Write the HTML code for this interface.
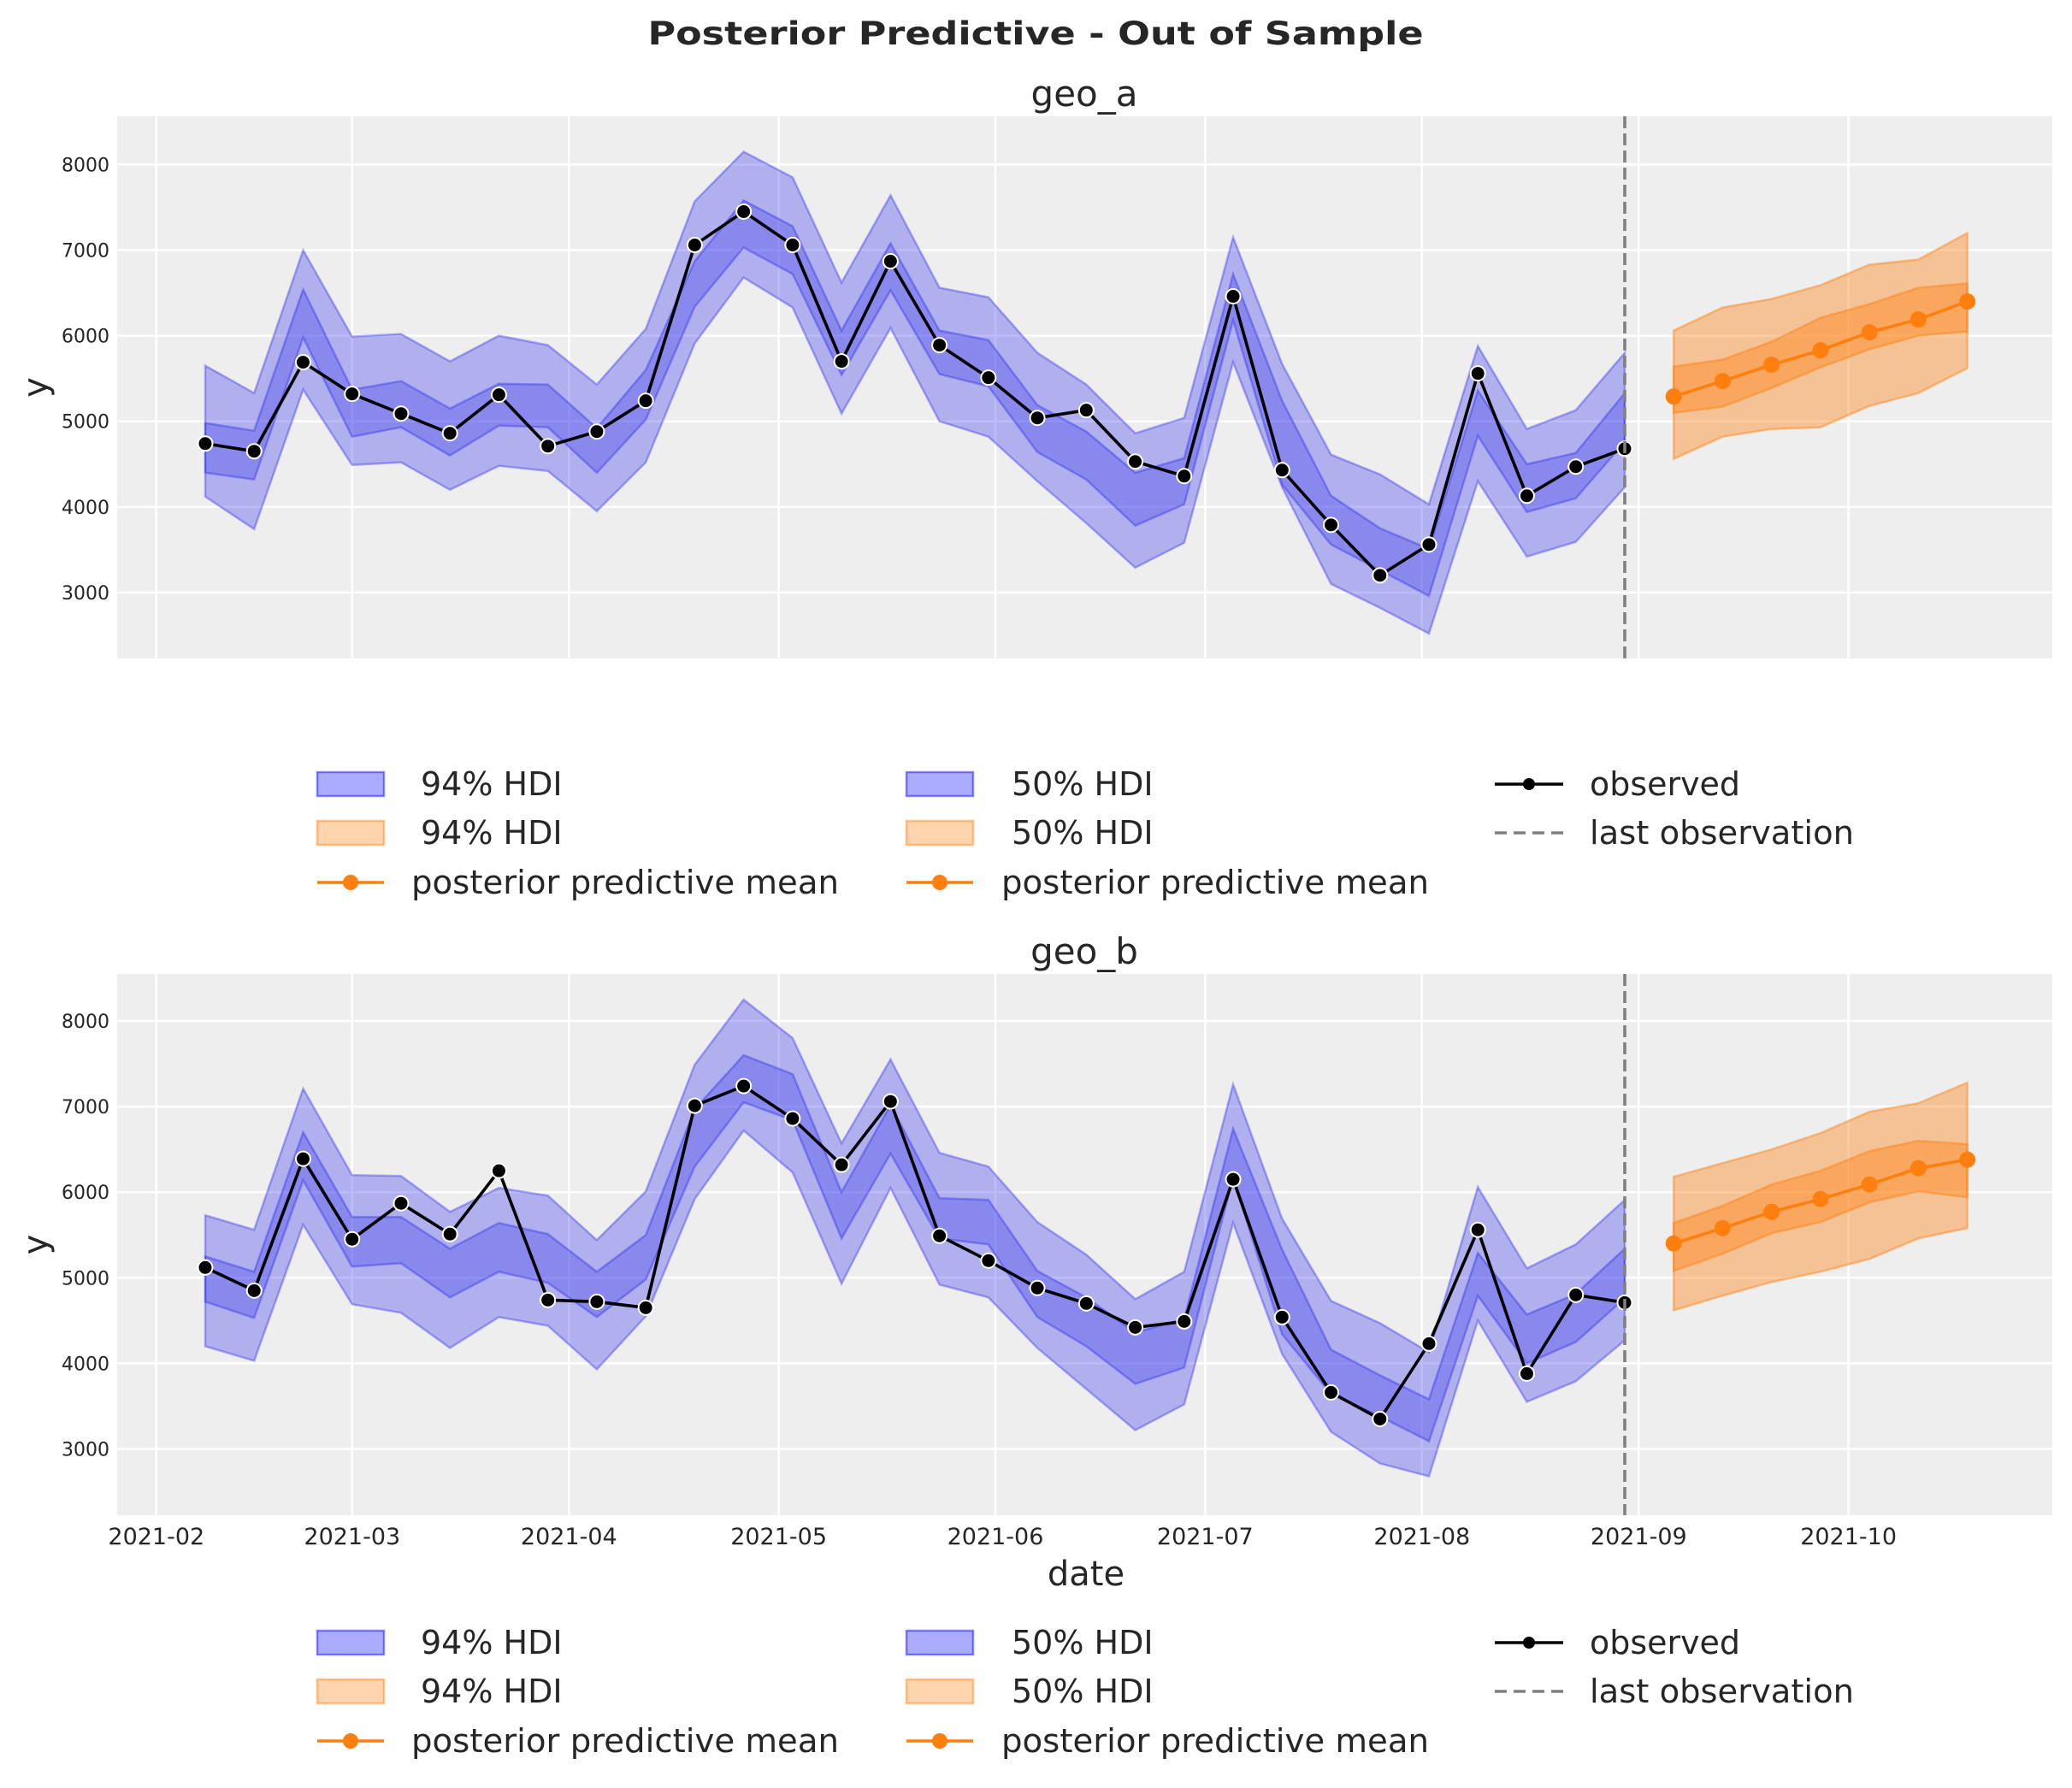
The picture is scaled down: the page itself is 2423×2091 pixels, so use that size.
<!DOCTYPE html>
<html><head><meta charset="utf-8"><style>
html,body{margin:0;padding:0;background:#fff;}
svg{display:block;font-family:"DejaVu Sans","Liberation Sans",sans-serif;}
</style></head><body>
<svg id="s" width="2423" height="2091" viewBox="0 0 2423 2091" xmlns="http://www.w3.org/2000/svg">
<rect width="2423" height="2091" fill="#fff"/>
<text x="1211" y="52" font-size="37" font-weight="bold" text-anchor="middle" fill="#262626" textLength="907" lengthAdjust="spacingAndGlyphs">Posterior Predictive - Out of Sample</text>
</svg>
<script>
const S=document.getElementById('s');const NS='http://www.w3.org/2000/svg';
function el(t,a,txt){const e=document.createElementNS(NS,t);for(const k in a)e.setAttribute(k,a[k]);if(txt!==undefined)e.textContent=txt;S.appendChild(e);return e;}
const L=137,R=2400,x0=240,dx=57.24;
const months=[[182.8,'2021-02'],[411.8,'2021-03'],[665.3,'2021-04'],[910.6,'2021-05'],[1164,'2021-06'],[1409.3,'2021-07'],[1662.8,'2021-08'],[1916.3,'2021-09'],[2161.6,'2021-10']];
const A={obs:[4740,4650,5690,5320,5090,4860,5310,4710,4880,5240,7060,7450,7060,5700,6870,5890,5510,5040,5130,4530,4360,6460,4430,3790,3200,3560,5560,4130,4470,4680],
h94:[5650,5330,7000,5990,6020,5700,6000,5890,5430,6080,7570,8150,7850,6620,7640,6560,6450,5800,5430,4860,5040,7150,5670,4610,4380,4030,5880,4910,5130,5800],
l94:[4120,3740,5370,4490,4520,4200,4480,4420,3950,4520,5910,6680,6330,5090,6090,5000,4820,4300,3810,3290,3580,5690,4230,3100,2820,2520,4300,3420,3590,4230],
h50:[4980,4890,6540,5370,5470,5150,5440,5430,4920,5600,6870,7580,7280,6060,7080,6060,5950,5190,4880,4400,4570,6720,5240,4130,3750,3510,5360,4500,4630,5330],
l50:[4400,4320,5980,4820,4930,4600,4950,4930,4400,5020,6340,7030,6720,5540,6530,5550,5410,4640,4320,3780,4030,6180,4260,3560,3260,2960,4830,3940,4100,4760],
fm:[5290,5470,5660,5830,6040,6190,6400],fh94:[6060,6330,6430,6590,6830,6890,7200],fl94:[4560,4820,4910,4930,5180,5330,5620],
fh50:[5640,5720,5930,6210,6370,6560,6610],fl50:[5100,5170,5390,5630,5840,6000,6050]};
const B={obs:[5120,4850,6390,5450,5870,5510,6250,4740,4720,4650,7010,7240,6860,6320,7060,5490,5200,4880,4700,4420,4490,6150,4540,3660,3350,4230,5560,3880,4800,4710],
h94:[5730,5560,7210,6200,6190,5770,6050,5960,5440,6010,7490,8250,7800,6570,7550,6460,6300,5650,5270,4750,5070,7260,5690,4730,4470,4130,6060,5110,5390,5910],
l94:[4200,4030,5620,4690,4590,4180,4540,4440,3930,4550,5920,6720,6230,4930,6050,4920,4770,4180,3700,3220,3520,5640,4110,3200,2830,2680,4500,3550,3790,4270],
h50:[5250,5070,6700,5710,5710,5340,5640,5510,5070,5500,6970,7600,7380,6000,7020,5930,5910,5080,4770,4360,4520,6740,5330,4160,3860,3580,5290,4570,4810,5340],
l50:[4720,4530,6140,5130,5170,4770,5070,4940,4540,4980,6300,7050,6840,5460,6450,5460,5390,4540,4200,3760,3950,6170,4340,3640,3380,3090,4790,4000,4250,4760],
fm:[5400,5580,5770,5920,6090,6280,6380],fh94:[6180,6340,6500,6690,6940,7040,7280],fl94:[4620,4790,4950,5070,5220,5460,5580],
fh50:[5640,5840,6090,6250,6480,6600,6560],fl50:[5080,5280,5520,5650,5880,6010,5940]};
function panel(D,top,bot,y8,title,xt){
 const Y=v=>y8+(8000-v)*0.1001;
 el('rect',{x:L,y:top,width:R-L,height:bot-top,fill:'#eeeeee'});
 for(let v=3000;v<=8000;v+=1000){el('line',{x1:L,x2:R,y1:Y(v),y2:Y(v),stroke:'#fff','stroke-width':2.5});
  el('text',{x:128,y:Y(v)+8,'font-size':22,'text-anchor':'end',fill:'#262626'},String(v));}
 for(const [x,l] of months){el('line',{x1:x,x2:x,y1:top,y2:bot,stroke:'#fff','stroke-width':2.5});
  if(xt)el('text',{x:x,y:bot+34,'font-size':27,'text-anchor':'middle',fill:'#262626'},l);}
 const X=i=>x0+i*dx, FX=i=>x0+(30+i)*dx;
 function band(hi,lo,fx,col,op,sop){let p='';hi.forEach((v,i)=>p+=(i?'L':'M')+fx(i).toFixed(1)+','+Y(v).toFixed(1));
  for(let i=lo.length-1;i>=0;i--)p+='L'+fx(i).toFixed(1)+','+Y(lo[i]).toFixed(1);
  el('path',{d:p+'Z',fill:col,'fill-opacity':op,stroke:col,'stroke-opacity':sop,'stroke-width':2.5});}
 band(D.h94,D.l94,X,'#2020ee',0.3,0.35);band(D.h50,D.l50,X,'#2020ee',0.28,0.35);
 band(D.fh94,D.fl94,FX,'#ff7f0e',0.4,0.45);band(D.fh50,D.fl50,FX,'#ff7f0e',0.4,0.45);
 el('polyline',{points:D.obs.map((v,i)=>X(i)+','+Y(v)).join(' '),fill:'none',stroke:'#000','stroke-width':3.6});
 D.obs.forEach((v,i)=>el('circle',{cx:X(i),cy:Y(v),r:8.5,fill:'#000',stroke:'#fff','stroke-width':2}));
 el('polyline',{points:D.fm.map((v,i)=>FX(i)+','+Y(v)).join(' '),fill:'none',stroke:'#ff7f0e','stroke-width':3.6});
 D.fm.forEach((v,i)=>el('circle',{cx:FX(i),cy:Y(v),r:9.5,fill:'#ff7f0e'}));
 el('line',{x1:1900,x2:1900,y1:top,y2:bot,stroke:'#808080','stroke-width':3.6,'stroke-dasharray':'14,6'});
 el('text',{x:1268,y:top-12,'font-size':42,'text-anchor':'middle',fill:'#262626'},title);
 const my=(top+bot)/2;el('text',{x:55,y:my,'font-size':40,'text-anchor':'middle',fill:'#262626',transform:`rotate(-90 55 ${my})`},'y');
}
function legend(r){
 const rows=[r,r+57,r+115];
 function patch(x,y,c){el('rect',{x:x,y:y-14,width:78,height:28,fill:c,'fill-opacity':0.33,stroke:c,'stroke-opacity':0.45,'stroke-width':2.5});}
 function txt(x,y,t,w){const a={x:x,y:y+13,'font-size':38,fill:'#262626'};if(w){a.textLength=w;a.lengthAdjust='spacingAndGlyphs';}el('text',a,t);}
 patch(371,rows[0],'#0000ff');txt(492,rows[0],'94% HDI');
 patch(371,rows[1],'#ff7f0e');txt(492,rows[1],'94% HDI');
 el('line',{x1:371,x2:449,y1:rows[2],y2:rows[2],stroke:'#ff7f0e','stroke-width':3.6});el('circle',{cx:410,cy:rows[2],r:9,fill:'#ff7f0e'});
 txt(481,rows[2],'posterior predictive mean',500);
 patch(1060,rows[0],'#0000ff');txt(1183,rows[0],'50% HDI');
 patch(1060,rows[1],'#ff7f0e');txt(1183,rows[1],'50% HDI');
 el('line',{x1:1060,x2:1138,y1:rows[2],y2:rows[2],stroke:'#ff7f0e','stroke-width':3.6});el('circle',{cx:1099,cy:rows[2],r:9,fill:'#ff7f0e'});
 txt(1171,rows[2],'posterior predictive mean',500);
 el('line',{x1:1748,x2:1828,y1:rows[0],y2:rows[0],stroke:'#000','stroke-width':3.6});el('circle',{cx:1788,cy:rows[0],r:7,fill:'#000'});
 txt(1859,rows[0],'observed',176);
 el('line',{x1:1748,x2:1828,y1:rows[1],y2:rows[1],stroke:'#808080','stroke-width':3.6,'stroke-dasharray':'14,8'});
 txt(1859,rows[1],'last observation',309);
}
panel(A,136,770,192.4,'geo_a',false);
panel(B,1139,1772,1194,'geo_b',true);
el('text',{x:1270,y:1854,'font-size':40,'text-anchor':'middle',fill:'#262626'},'date');
legend(917);legend(1921);
</script>
</body></html>
